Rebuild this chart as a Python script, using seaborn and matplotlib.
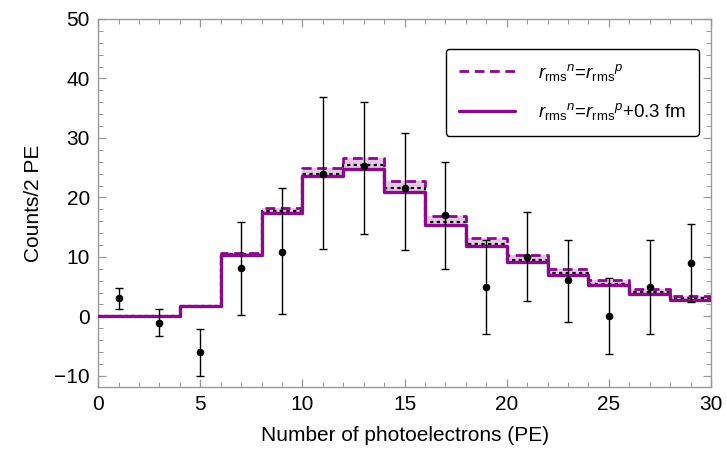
import numpy as np
import pandas as pd
import matplotlib
matplotlib.use("Agg")
import matplotlib.pyplot as plt
import seaborn as sns

# bin edges (2 PE per bin)
edges = np.arange(0, 32, 2)
# prediction r_rms^n = r_rms^p (dashed)
pred_equal = [0, 0, 1.7, 10.7, 18.2, 25.0, 26.7, 22.7, 16.8, 13.2, 10.3, 8.0, 6.05, 4.6, 3.4]
# prediction r_rms^n = r_rms^p + 0.3 fm (solid)
pred_skin = [0, 0, 1.7, 10.4, 17.4, 23.6, 24.7, 20.9, 15.3, 11.8, 9.1, 6.9, 5.2, 3.8, 2.8]
# central (dotted black)
pred_mid = [0, 0, 1.7, 10.55, 17.7, 24.0, 25.4, 21.5, 15.9, 12.2, 9.5, 7.3, 5.5, 4.1, 3.1]

# measured points
data_x = [1, 3, 5, 7, 9, 11, 13, 15, 17, 19, 21, 23, 25, 27, 29]
data_y = [3.1, -1.1, -6.0, 8.1, 10.9, 24.0, 25.3, 21.5, 17.1, 5.0, 10.0, 6.05, 0.0, 5.0, 8.9]
err_hi = [4.8, 1.2, -2.1, 15.8, 21.6, 36.8, 36.1, 30.9, 26.0, 12.9, 17.5, 12.9, 6.5, 12.9, 15.5]
err_lo = [1.3, -3.3, -10.0, 0.2, 0.4, 11.4, 13.9, 11.1, 8.0, -3.0, 2.5, -1.0, -6.4, -2.9, 2.35]

purple = "#8b0a8b"

sns.set_style("ticks")
plt.rcParams["font.family"] = ["Liberation Sans", "DejaVu Sans"]
plt.rcParams["mathtext.fontset"] = "custom"
plt.rcParams["mathtext.rm"] = "Liberation Sans"
plt.rcParams["mathtext.it"] = "Liberation Sans:italic"
plt.rcParams["text.color"] = "black"
plt.rcParams["axes.labelcolor"] = "black"
plt.rcParams["xtick.labelcolor"] = "black"
plt.rcParams["ytick.labelcolor"] = "black"

def stepdf(vals):
    return pd.DataFrame({"x": edges, "y": list(vals) + [vals[-1]]})

fig = plt.figure(figsize=(7.27, 4.62), dpi=100)
ax = fig.add_axes([0.135, 0.162, 0.843, 0.797])

ax.fill_between(edges, list(pred_skin) + [pred_skin[-1]], list(pred_equal) + [pred_equal[-1]],
                step="post", color="#e6c8e6", lw=0, zorder=1)
sns.lineplot(data=stepdf(pred_skin), x="x", y="y", ax=ax, color=purple, lw=2.4,
             drawstyle="steps-post", label=r"$r_{\rm rms}{}^{n}$=$r_{\rm rms}{}^{p}$+0.3 fm", zorder=3)
sns.lineplot(data=stepdf(pred_equal), x="x", y="y", ax=ax, color=purple, lw=2.0,
             drawstyle="steps-post", dashes=False, label=r"$r_{\rm rms}{}^{n}$=$r_{\rm rms}{}^{p}$", zorder=3)
ax.lines[-1].set_linestyle((0, (3.5, 2)))
sns.lineplot(data=stepdf(pred_mid), x="x", y="y", ax=ax, color="black", lw=1.6,
             drawstyle="steps-post", zorder=2, legend=False)
ax.lines[-1].set_linestyle((0, (1.5, 1.5)))

y = np.array(data_y)
yerr = [y - np.array(err_lo), np.array(err_hi) - y]
ax.errorbar(data_x, data_y, yerr=yerr, fmt="o", color="black", ms=4.5,
            elinewidth=1.0, capsize=3, capthick=1.0, zorder=4)

ax.set_xlim(0, 30)
ax.set_ylim(-11.9, 50)
ax.set_xticks(range(0, 31, 5))
ax.set_xticks(range(0, 31, 1), minor=True)
ax.set_yticks(range(-10, 51, 10))
ax.set_yticks(range(-10, 51, 2), minor=True)
ax.set_yticklabels(["\u221210", "0", "10", "20", "30", "40", "50"])
ax.tick_params(which="both", direction="in", top=True, right=True, color="#999999",
               labelsize=15, pad=6)
ax.tick_params(which="major", length=6, width=0.9)
ax.tick_params(which="minor", length=3.5, width=0.7)
for s in ax.spines.values():
    s.set_color("#999999")
    s.set_linewidth(1.0)

ax.set_xlabel("Number of photoelectrons (PE)", fontsize=15, labelpad=8)
ax.set_ylabel("Counts/2 PE", fontsize=15, labelpad=8)

handles, labels = ax.get_legend_handles_labels()
leg = ax.legend(handles[::-1], labels[::-1], loc="upper right", bbox_to_anchor=(0.995, 0.945),
                fontsize=13.5, frameon=True, fancybox=True, edgecolor="black",
                handlelength=3.0, labelspacing=1.0, borderpad=0.7, handletextpad=1.2)
leg.get_frame().set_linewidth(1.0)
leg.get_frame().set_alpha(1)

fig.savefig("out.png", dpi=100)
